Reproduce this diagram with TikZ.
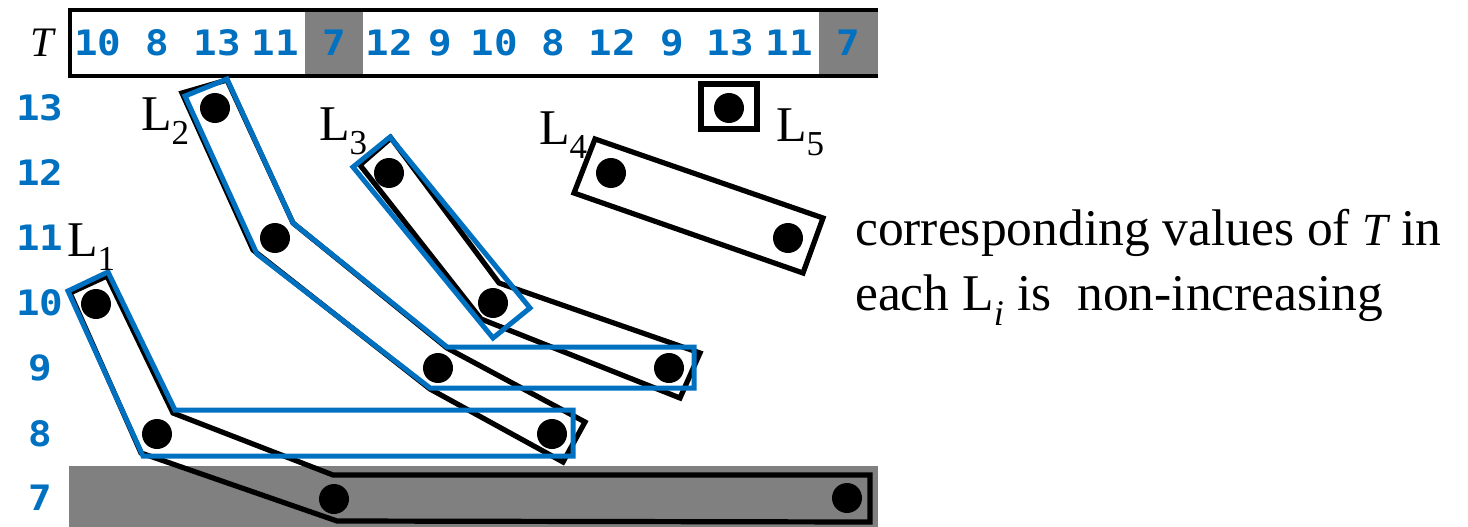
\documentclass[tikz,border=0pt]{standalone}
\usepackage{fontspec}
\setmainfont{Liberation Serif}
\newfontfamily\numfont{DejaVu Sans Mono}[FakeStretch=1.12]
\usepackage{tikz}

\definecolor{numblue}{RGB}{0,112,192}
\definecolor{boxgray}{RGB}{128,128,128}

\tikzset{
  valdot/.style = {shape = circle, fill = black, inner sep = 0pt, minimum size = 30pt},
  numtext/.style = {font = \numfont\bfseries\fontsize{35}{35}\selectfont, text = numblue, inner sep = 0pt},
  lbl/.style = {font = \fontsize{50}{60}\selectfont, inner sep = 0pt, anchor = base west},
  blackrun/.style = {draw = black, line width = 5.2pt, line join = miter},
  bluerun/.style = {draw = numblue, line width = 5pt, line join = miter}
}

\begin{document}
\begin{tikzpicture}[x = 1pt, y = -1pt]
\useasboundingbox (0,0) rectangle (1468,527);

% the sequence T
\fill[white] (70,10) rectangle (878,76);
\fill[boxgray] (305,10) rectangle (363,76);
\fill[boxgray] (819,10) rectangle (878,76);
\draw[line width = 3.5pt] (878,76) -- (70,76) -- (70,10) -- (878,10);
\fill[boxgray] (69,466) rectangle (878,527);

\node[font = \fontsize{42}{42}\selectfont\itshape, inner sep = 0pt, anchor = base](tlabel) at (42,57) {T};
\node[numtext](t1) at (98,43) {10};
\node[numtext](t2) at (157,43) {8};
\node[numtext](t3) at (217,43) {13};
\node[numtext](t4) at (275,43) {11};
\node[numtext](t5) at (334,43) {7};
\node[numtext](t6) at (389,43) {12};
\node[numtext](t7) at (440,43) {9};
\node[numtext](t8) at (494,43) {10};
\node[numtext](t9) at (553,43) {8};
\node[numtext](t10) at (612,43) {12};
\node[numtext](t11) at (672,43) {9};
\node[numtext](t12) at (730,43) {13};
\node[numtext](t13) at (789,43) {11};
\node[numtext](t14) at (848,43) {7};

% values on the left
\node[numtext](r13) at (40,108) {13};
\node[numtext](r12) at (40,173) {12};
\node[numtext](r11) at (40,238) {11};
\node[numtext](r10) at (40,303) {10};
\node[numtext](r9) at (40,368) {9};
\node[numtext](r8) at (40,434) {8};
\node[numtext](r7) at (40,498) {7};

% the lists, black first
\draw[blackrun] (70,293) -- (107,276) -- (173,413) -- (333,475) -- (870,475) -- (870,522) -- (337,521) -- (141,453) -- cycle;
\draw[blackrun] (182,93) -- (227,80) -- (293,223) -- (447,348) -- (585,422) -- (563,462) -- (430,389) -- (253,250) -- cycle;
\draw[blackrun] (360,165) -- (391,138) -- (499,283) -- (700,353) -- (680,398) -- (481,319) -- cycle;
\draw[blackrun] (595,139) -- (823,218) -- (803,273) -- (574,193) -- cycle;
\draw[blackrun] (701,84) rectangle (757,129);

\draw[bluerun] (68,291) -- (108,272) -- (175,410) -- (573,410) -- (573,456) -- (143,456) -- cycle;
\draw[bluerun] (185,96) -- (227,79) -- (293,223) -- (447,347) -- (694,347) -- (694,388) -- (430,388) -- (257,254) -- cycle;
\draw[bluerun] (353,167) -- (390,137) -- (530,308) -- (493,338) -- cycle;

% one dot per position of T
\node[valdot](d1) at (96,304) {};
\node[valdot](d2) at (157,434) {};
\node[valdot](d3) at (215,108) {};
\node[valdot](d4) at (275,238) {};
\node[valdot](d5) at (334,499) {};
\node[valdot](d6) at (389,173) {};
\node[valdot](d7) at (438,368) {};
\node[valdot](d8) at (493,303) {};
\node[valdot](d9) at (552,434) {};
\node[valdot](d10) at (611,173) {};
\node[valdot](d11) at (669,368) {};
\node[valdot](d12) at (729,108) {};
\node[valdot](d13) at (788,238) {};
\node[valdot](d14) at (847,498) {};

\node[lbl](l1) at (67,256) {L\textsubscript{1}};
\node[lbl](l2) at (141,130) {L\textsubscript{2}};
\node[lbl](l3) at (319,140) {L\textsubscript{3}};
\node[lbl](l4) at (539,144) {L\textsubscript{4}};
\node[lbl](l5) at (776,141) {L\textsubscript{5}};

\node[lbl, font = \fontsize{51.5}{60}\selectfont](noteA) at (855,245) {corresponding values of {\fontsize{46}{46}\selectfont\itshape T} in};
\node[lbl, font = \fontsize{51.5}{60}\selectfont](noteB) at (855,310) {each L\textsubscript{\itshape i} is\ \ non-increasing};
\end{tikzpicture}
\end{document}
